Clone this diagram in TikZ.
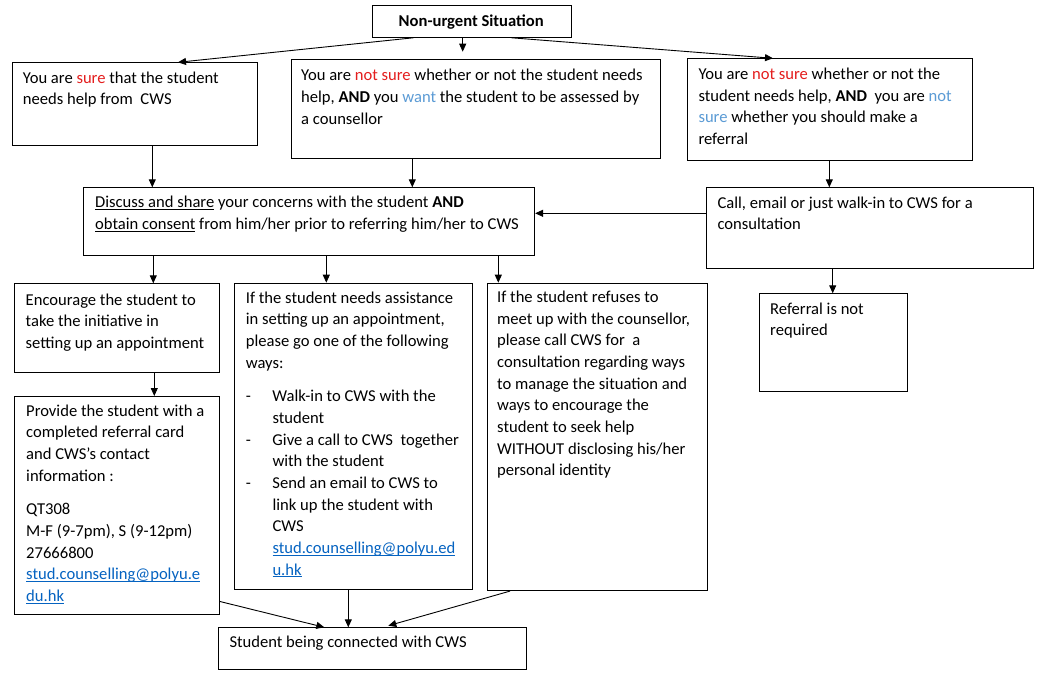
\documentclass[tikz,border=0pt]{standalone}
\usepackage{fontspec}
\setmainfont{Carlito}
\usetikzlibrary{arrows.meta}
\definecolor{redtxt}{HTML}{E41E1E}
\definecolor{bluetxt}{HTML}{5B9BD5}
\definecolor{linkblue}{HTML}{0563C1}
\newsavebox\ulbox
\newcommand\txl[1]{\begin{tabular}[t]{@{}l@{}}#1\end{tabular}}
\newcommand\ulx[1]{\sbox\ulbox{#1}\rlap{\rule[-2.3pt]{\wd\ulbox}{0.9pt}}\usebox\ulbox}
\newcommand\lnk[1]{{\color{linkblue}\ulx{#1}}}
\newcommand\rd[1]{{\color{redtxt}#1}}
\newcommand\bl[1]{{\color{bluetxt}#1}}
\newcommand\dsh{\makebox[26.6pt][l]{-}}
\newcommand\ind{\hspace*{26.6pt}}
\tikzset{
  bx/.style={draw, line width=1.1pt, anchor=north west, inner sep=0pt},
  tx/.style={anchor=base west, inner sep=0pt, font=\fontsize{16.6}{21.67}\selectfont},
  arr/.style={line width=0.9pt, -{Triangle[length=8pt,width=7pt]}}
}
\begin{document}
\begin{tikzpicture}[x=1pt,y=-1pt]
\fill[white] (0,0) rectangle (1040,677);
\useasboundingbox (0,0) rectangle (1040,677);
% boxes
\node[bx, minimum width=199pt, minimum height=31.7pt] (T) at (371.7,5) {};
\node[bx, minimum width=245.6pt, minimum height=82.7pt] (A) at (11.7,62.3) {};
\node[bx, minimum width=369.3pt, minimum height=99pt] (B) at (290.7,59.3) {};
\node[bx, minimum width=284.4pt, minimum height=101.7pt] (C) at (687.3,58.3) {};
\node[bx, minimum width=450.7pt, minimum height=67.7pt] (D) at (83.3,187.3) {};
\node[bx, minimum width=326.4pt, minimum height=81pt] (E) at (706.3,187.3) {};
\node[bx, minimum width=204.5pt, minimum height=89pt] (F) at (14,283.3) {};
\node[bx, minimum width=238pt, minimum height=306.3pt] (G) at (234.3,282.7) {};
\node[bx, minimum width=220.2pt, minimum height=307.3pt] (H) at (486.5,282.7) {};
\node[bx, minimum width=147.4pt, minimum height=97.4pt] (I) at (759.3,293.3) {};
\node[bx, minimum width=204.5pt, minimum height=218.3pt] (J) at (14,396) {};
\node[bx, minimum width=307.7pt, minimum height=41.7pt] (K) at (218.3,627.3) {};
% texts
\node[tx, anchor=base] (Tt) at (471.2,26.7) {\textbf{Non-urgent Situation}};
\node[tx] (At) at (22.7,83.3) {\txl{You are \rd{sure} that the student\\ needs help from\ \ CWS}};
\node[tx] (Bt) at (301,80.8) {\txl{You are \rd{not sure} whether or not the student needs\\ help, \textbf{AND} you \bl{want} the student to be assessed by\\ a counsellor}};
\node[tx] (Ct) at (698.3,79.5) {\txl{You are \rd{not sure} whether or not the\\ student needs help, \textbf{AND}\ \ you are \bl{not}\\ \bl{sure} whether you should make a\\ referral}};
\node[tx] (Dt) at (95,207.8) {\txl{\ulx{Discuss and share} your concerns with the student \textbf{AND}\\ \ulx{obtain consent} from him/her prior to referring him/her to CWS}};
\node[tx] (Et) at (717.3,208.3) {\txl{Call, email or just walk-in to CWS for a\\ consultation}};
\node[tx] (Ft) at (25.5,305) {\txl{Encourage the student to\\ take the initiative in\\ setting up an appointment}};
\node[tx] (Gt) at (245.7,303.3) {\txl{If the student needs assistance\\
in setting up an appointment,\\
please go one of the following\\
ways:\\[11.7pt]
\dsh Walk-in to CWS with the\\
\ind student\\
\dsh Give a call to CWS\ \ together\\
\ind with the student\\
\dsh Send an email to CWS to\\
\ind link up the student with\\
\ind CWS\\
\ind \lnk{stud.counselling@polyu.ed}\\
\ind \lnk{u.hk}}};
\node[tx] (Ht) at (497,302.5) {\txl{If the student refuses to\\ meet up with the counsellor,\\ please call CWS for\ \ a\\ consultation regarding ways\\ to manage the situation and\\ ways to encourage the\\ student to seek help\\ WITHOUT disclosing his/her\\ personal identity}};
\node[tx] (It) at (770,314) {\txl{Referral is not\\ required}};
\node[tx] (Jt) at (26,416) {\txl{Provide the student with a\\ completed referral card\\ and CWS’s contact\\ information :\\[12.3pt] QT308\\ M-F (9-7pm), S (9-12pm)\\ 27666800\\ \lnk{stud.counselling@polyu.e}\\ \lnk{du.hk}}};
\node[tx] (Kt) at (229.3,647.3) {Student being connected with CWS};
% connectors
\draw[arr] ([xshift=41.6pt]T.south west) -- ([xshift=166.3pt]A.north west);
\draw[arr] ([xshift=91pt]T.south west) -- ([xshift=172pt,yshift=7.6pt]B.north west);
\draw[arr] ([xshift=140pt]T.south west) -- ([xshift=85.7pt]C.north west);
\draw[arr] ([xshift=140.6pt]A.south west) -- ([xshift=69pt]D.north west);
\draw[arr] ([xshift=121.6pt]B.south west) -- ([xshift=329pt]D.north west);
\draw[arr] ([xshift=142pt]C.south west) -- ([xshift=123pt]E.north west);
\draw[arr] ([yshift=-26pt]E.north west) -- ([yshift=-26pt]D.north east);
\draw[arr] ([xshift=70pt]D.south west) -- ([xshift=139.3pt]F.north west);
\draw[arr] ([xshift=243pt]D.south west) -- ([xshift=92pt]G.north west);
\draw[arr] ([xshift=415pt]D.south west) -- ([xshift=11.8pt]H.north west);
\draw[arr] ([xshift=126.4pt]E.south west) -- ([xshift=73.4pt]I.north west);
\draw[arr] ([xshift=140.3pt]F.south west) -- ([xshift=140.3pt]J.north west);
\draw[arr] ([yshift=14pt]J.south east) -- ([xshift=106pt]K.north west);
\draw[arr] ([xshift=114pt]G.south west) -- ([xshift=130pt]K.north west);
\draw[arr] ([xshift=23.5pt]H.south west) -- ([xshift=170pt,yshift=1.6pt]K.north west);
\end{tikzpicture}
\end{document}
